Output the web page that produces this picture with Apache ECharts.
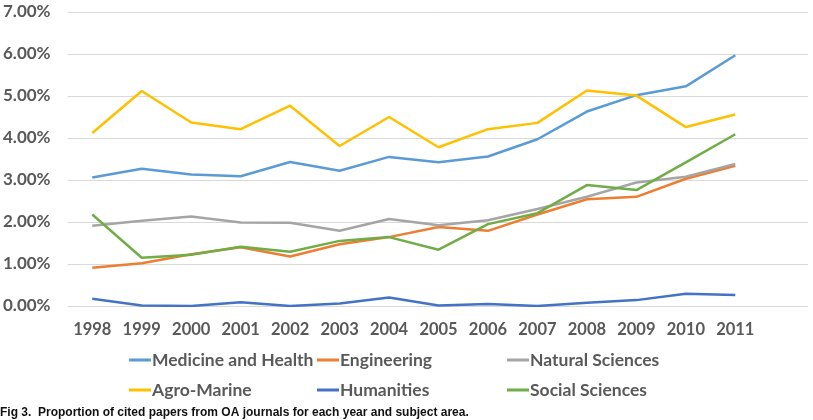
<!DOCTYPE html>
<html>
<head>
<meta charset="utf-8">
<script src="https://cdn.jsdelivr.net/npm/echarts@6/dist/echarts.min.js"></script>
<style>
    html,body{margin:0;padding:0;background:#fff;}
    #oachart{width:813px;height:420px;}
</style>
</head>
<body>
<div id="oachart"></div>
<script>
// years on the x axis
var years = [1998, 1999, 2000, 2001, 2002, 2003, 2004, 2005, 2006, 2007, 2008, 2009, 2010, 2011];
// y ticks (percent)
var yTicks = [0, 1, 2, 3, 4, 5, 6, 7];

// share of cited papers from OA journals, in %
var medicine    = [3.06, 3.27, 3.13, 3.09, 3.43, 3.22, 3.55, 3.42, 3.56, 3.97, 4.63, 5.02, 5.23, 5.97];
var engineering = [0.91, 1.02, 1.23, 1.40, 1.18, 1.47, 1.64, 1.88, 1.79, 2.18, 2.54, 2.60, 3.03, 3.34];
var natural     = [1.91, 2.03, 2.13, 1.99, 1.98, 1.79, 2.07, 1.92, 2.04, 2.31, 2.60, 2.94, 3.08, 3.38];
var agro        = [4.12, 5.12, 4.37, 4.21, 4.77, 3.81, 4.50, 3.78, 4.21, 4.36, 5.13, 5.01, 4.26, 4.56];
var humanities  = [0.17, 0.01, 0.00, 0.09, 0.00, 0.06, 0.20, 0.01, 0.05, 0.00, 0.08, 0.14, 0.29, 0.26];
var social      = [2.18, 1.15, 1.22, 1.41, 1.29, 1.55, 1.64, 1.34, 1.95, 2.21, 2.88, 2.76, 3.42, 4.09];

var names = ['Medicine and Health', 'Engineering', 'Natural Sciences', 'Agro-Marine', 'Humanities', 'Social Sciences'];
var colors = ['#5B9BD5', '#ED7D31', '#A5A5A5', '#FFC000', '#4472C4', '#70AD47'];
var values = [medicine, engineering, natural, agro, humanities, social];

var font = 'Lato, "Open Sans", sans-serif';

function pairs(arr){
    return arr.map(function(v, i){ return [years[i], v]; });
}

var seriesList = names.map(function(n, i){
    return {
        name: n,
        type: 'line',
        data: pairs(values[i]),
        symbol: 'none',
        lineStyle: { width: 2.5, color: colors[i] },
        itemStyle: { color: colors[i] }
    };
});

// one legend per column, two rows each
function legendColumn(items, left){
    return {
        data: items,
        left: left,
        top: 345,
        orient: 'vertical',
        itemWidth: 22,
        itemHeight: 3,
        itemGap: 10,
        icon: 'rect',
        textStyle: {
            color: '#595959',
            fontFamily: font,
            fontWeight: 'bold',
            fontSize: 17.5,
            lineHeight: 20,
            padding: [0, 0, 0, -4]
        }
    };
}

var chart = echarts.init(document.getElementById('oachart'));
var option = {
    animation: false,
    color: colors,
    title: {
        text: 'Fig 3.  Proportion of cited papers from OA journals for each year and subject area.',
        left: 0,
        bottom: 0,
        padding: [0, 0, 1, 0],
        textStyle: {
            color: '#111',
            fontFamily: '"Liberation Sans Narrow", "Liberation Sans", Arial, sans-serif',
            fontWeight: 'bold',
            fontSize: 12
        }
    },
    legend: [
        legendColumn([names[0], names[3]], 124),
        legendColumn([names[1], names[4]], 312),
        legendColumn([names[2], names[5]], 502)
    ],
    grid: {
        left: 64,
        right: 5,
        top: 12,
        bottom: 114,
        containLabel: false
    },
    xAxis: {
        type: 'value',
        min: 1997.5,
        max: 2012.47,
        axisLine: { show: false },
        axisTick: { show: false },
        splitLine: { show: false },
        axisLabel: {
            customValues: years,
            margin: 15,
            color: '#595959',
            fontFamily: font,
            fontWeight: 'bold',
            fontSize: 16.5,
            formatter: function(v){ return String(v); }
        }
    },
    yAxis: {
        type: 'value',
        min: yTicks[0],
        max: yTicks[yTicks.length - 1],
        interval: 1,
        axisLine: { show: false },
        axisTick: { show: false },
        axisLabel: {
            margin: 17,
            color: '#595959',
            fontFamily: font,
            fontWeight: 'bold',
            fontSize: 17,
            formatter: function(v){ return v.toFixed(2) + '%'; }
        },
        splitLine: {
            show: true,
            lineStyle: { color: '#D9D9D9', width: 1 }
        }
    },
    series: seriesList
};
chart.setOption(option, true);
</script>
</body>
</html>
